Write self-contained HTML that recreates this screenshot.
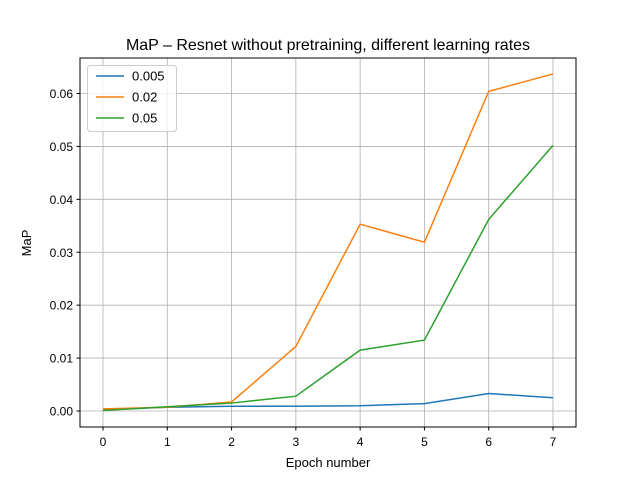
<!DOCTYPE html>
<html><head><meta charset="utf-8"><style>
body{margin:0;background:#fff}
svg{font-family:"Liberation Sans","DejaVu Sans",sans-serif;display:block}
</style></head><body>
<svg id="chart" width="640" height="480">
<rect width="640" height="480" fill="#fff"/>
<text x="328" y="50" font-size="16" text-anchor="middle">MaP – Resnet without pretraining, different learning rates</text>
<g id="grid"></g><g id="series"></g><g id="ticks"></g>
<rect x="80" y="58" width="496" height="369" fill="none" stroke="#000" stroke-width="1"/>
<text x="328" y="467" font-size="13" text-anchor="middle">Epoch number</text>
<text transform="translate(31,243) rotate(-90)" font-size="13" text-anchor="middle">MaP</text>
<g id="legend"></g>
</svg>
<script>
const epochs=[0,1,2,3,4,5,6,7];
const xTicks=[0,1,2,3,4,5,6,7];
const yTicks=[0,0.01,0.02,0.03,0.04,0.05,0.06];
const seriesNames=["0.005","0.02","0.05"];
const lr005=[0.0003,0.0007,0.0009,0.0009,0.001,0.0014,0.0033,0.0025];
const lr02=[0.0004,0.0007,0.0017,0.0122,0.0353,0.0319,0.0604,0.0637];
const lr05=[0.0001,0.0008,0.0015,0.0028,0.0115,0.0134,0.0362,0.0502];
const colors=["#1f77b4","#ff7f0e","#2ca02c"];
const NS="http://www.w3.org/2000/svg";
const X=v=>103+v*(450/7);
const Y=v=>411-v*(317.5/0.06);
function mk(t,a,p){const e=document.createElementNS(NS,t);for(const k in a)e.setAttribute(k,a[k]);p.appendChild(e);return e;}
const grid=document.getElementById('grid'),ticks=document.getElementById('ticks'),ser=document.getElementById('series'),leg=document.getElementById('legend');
xTicks.forEach(v=>{
 const g=mk('line',{x1:X(v),x2:X(v),y1:58,y2:427,stroke:'#b0b0b0','stroke-width':0.8},grid);
 
 mk('line',{x1:X(v),x2:X(v),y1:427,y2:430.5,stroke:'#000'},ticks);
 const t=mk('text',{x:X(v),y:446,'font-size':12,'text-anchor':'middle'},ticks);t.textContent=v;
 
});
yTicks.forEach(v=>{
 const g=mk('line',{x1:80,x2:576,y1:Y(v),y2:Y(v),stroke:'#b0b0b0','stroke-width':0.8},grid);
 
 mk('line',{x1:76.5,x2:80,y1:Y(v),y2:Y(v),stroke:'#000'},ticks);
 const t=mk('text',{x:73,y:Y(v)+4.5,'font-size':12,'text-anchor':'end'},ticks);t.textContent=v.toFixed(2);
 
});
[lr005,lr02,lr05].forEach((d,i)=>{
 const p=mk('polyline',{points:d.map((v,j)=>X(epochs[j])+','+Y(v)).join(' '),fill:'none',stroke:colors[i],'stroke-width':1.5},ser);
 
});
mk('rect',{x:87.5,y:65.5,width:89,height:66,rx:3,fill:'#fff','fill-opacity':0.8,stroke:'#ccc'},leg);
seriesNames.forEach((n,i)=>{
 const y=76+i*21;
 const l=mk('line',{x1:96,x2:124,y1:y,y2:y,stroke:colors[i],'stroke-width':1.5},leg);
 
 const t=mk('text',{x:132,y:y+4.5,'font-size':13},leg);t.textContent=n;
 
});
</script>
</body></html>
